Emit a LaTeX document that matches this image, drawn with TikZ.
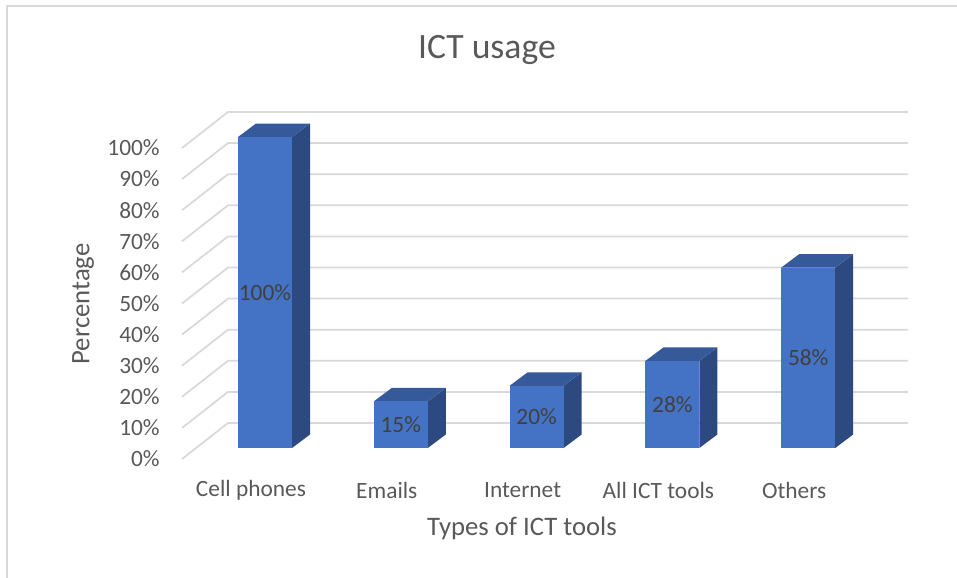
\documentclass[tikz,border=0pt]{standalone}
\usepackage{fontspec}
\setmainfont{Carlito}
\definecolor{barfront}{HTML}{4472C4}
\definecolor{bartop}{HTML}{355999}
\definecolor{barside}{HTML}{2C4A7F}
\definecolor{gridgray}{HTML}{D9D9D9}
\definecolor{axistext}{HTML}{595959}
\definecolor{datatext}{HTML}{404040}
\tikzset{
  grid line/.style={draw=gridgray, line width=1pt},
  tick label/.style={text=axistext, font=\fontsize{13.3}{15}\selectfont, inner sep=0pt},
  cat label/.style={text=axistext, font=\fontsize{13.3}{15}\selectfont, inner sep=0pt},
  data label/.style={text=datatext, font=\fontsize{13.3}{15}\selectfont, inner sep=0pt},
  axis title/.style={text=axistext, font=\fontsize{15.2}{18}\selectfont, inner sep=0pt},
}
\begin{document}
\begin{tikzpicture}[x=0.02cm,y=-0.02cm]
\useasboundingbox (0,0) rectangle (957,578);
\draw[draw=gridgray, line width=1.2pt] (7,578) -- (7,6) -- (957,6);
\node[text=axistext, font=\fontsize{20.3}{24}\selectfont, inner sep=0pt] (title) at (487,50) {ICT usage};
% gridlines and tick labels
\foreach \k in {0,...,10}{
  \pgfmathtruncatemacro\pct{\k*10}
  \draw[grid line] (182,459-31.1*\k) -- (228,423-31.1*\k) -- (908,423-31.1*\k);
  \node[tick label, anchor=east] (tick\k) at (160,459-31.1*\k) {\pct\%};
}
% bars
\foreach \i/\v/\name in {0/100/Cell phones,1/15/Emails,2/20/Internet,3/28/All ICT tools,4/58/Others}{
  \pgfmathsetmacro\c{265+135.8*\i}
  \pgfmathsetmacro\t{448-3.11*\v}
  \fill[barside] (\c+27,448) -- (\c+45,434.5) -- (\c+45,\t-13.5) -- (\c+27,\t) -- cycle;
  \fill[bartop] (\c-27,\t) -- (\c-9,\t-13.5) -- (\c+45,\t-13.5) -- (\c+27,\t) -- cycle;
  \fill[barfront] (\c-27,448) rectangle (\c+27,\t);
  \node[data label] (val\i) at (\c,{(448+\t)/2}) {\v\%};
  \node[cat label] (cat\i) at (\c-14,490) {\name};
}
\node[axis title, rotate=90] (ytitle) at (83,304) {Percentage};
\node[axis title] (xtitle) at (522,528) {Types of ICT tools};
\end{tikzpicture}
\end{document}
